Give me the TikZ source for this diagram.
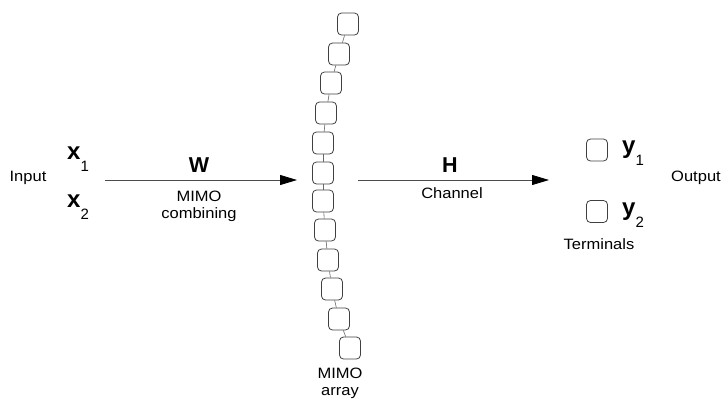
\documentclass[tikz,border=0pt]{standalone}
\usepackage{fontspec}
\setmainfont{Liberation Sans}
\usetikzlibrary{arrows.meta}

\tikzset{
  lbl/.style={anchor=base, inner sep=0pt, font=\fontsize{15}{15}\selectfont, xscale=1.1},
  biglbl/.style={anchor=base, inner sep=0pt, font=\fontsize{21.5}{21.5}\selectfont\bfseries},
  sym/.style={anchor=base west, inner sep=0pt},
  antenna/.style={draw=black!75, line width=0.8pt, rounded corners=4pt,
    minimum width=21pt, minimum height=22pt, inner sep=0pt},
  link/.style={draw=black!60, line width=0.6pt},
  flow/.style={draw=black!70, line width=0.8pt,
    -{Triangle[length=17pt, width=10pt, color=black]}},
}

% bold symbol with a subscript index
\newcommand{\symidx}[2]{{\fontsize{24}{24}\selectfont\bfseries #1}%
  \raisebox{-12pt}{\fontsize{15}{15}\selectfont #2}}

\begin{document}
\begin{tikzpicture}[x=1pt, y=-1pt]
  \useasboundingbox (0,0) rectangle (724,400);

  % input side
  \node[lbl] (input) at (28,181) {Input};
  \node[sym] (x1) at (67,159) {\symidx{x}{1}};
  \node[sym] (x2) at (67,207) {\symidx{x}{2}};

  % combining stage
  \coordinate (wstart) at (105,180);
  \coordinate (wend) at (297,180);
  \draw[flow] (wstart) -- (wend);
  \node[biglbl] (W) at (199,172) {W};
  \node[lbl] (mimo1) at (199,201) {MIMO};
  \node[lbl] (comb) at (199,218) {combining};

  % antenna array
  \foreach \i/\px/\py in {1/348/24, 2/339/54, 3/331/83, 4/326/113,
      5/323/143, 6/323/173, 7/323/201, 8/325/230, 9/328/260,
      10/332/289, 11/339/319, 12/350/348} {
    \node[antenna] (a\i) at (\px,\py) {};
  }
  \foreach \i [evaluate=\i as \j using int(\i+1)] in {1,...,11} {
    \draw[link] (a\i) -- (a\j);
  }
  \node[lbl] (mimo2) at (340,378) {MIMO};
  \node[lbl] (arr) at (340,395) {array};

  % channel stage
  \coordinate (hstart) at (358,180);
  \coordinate (hend) at (549,180);
  \draw[flow] (hstart) -- (hend);
  \node[biglbl] (H) at (450,172) {H};
  \node[lbl] (chan) at (452,198) {Channel};

  % terminals
  \node[antenna] (t1) at (597,150) {};
  \node[antenna] (t2) at (597,211.5) {};
  \node[sym] (y1) at (622,153) {\symidx{y}{1}};
  \node[sym] (y2) at (622,215.5) {\symidx{y}{2}};
  \node[lbl] (term) at (599,249) {Terminals};
  \node[lbl] (output) at (696,181) {Output};
\end{tikzpicture}
\end{document}
